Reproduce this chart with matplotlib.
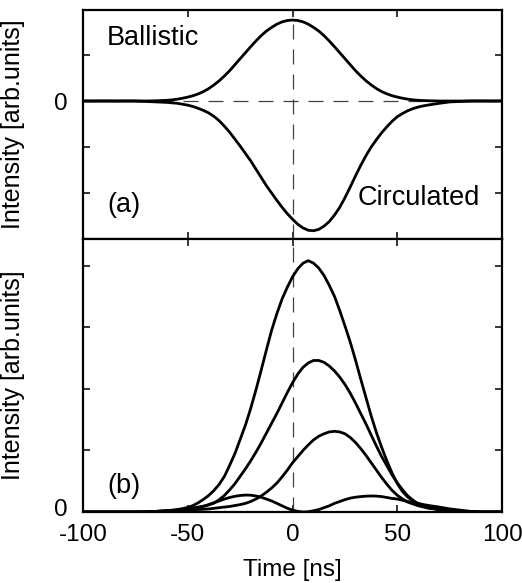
import numpy as np
import matplotlib
matplotlib.use("Agg")
import matplotlib.pyplot as plt
from matplotlib.transforms import ScaledTranslation

# time axis, ns: coarse in the flat tails, 2.5 ns across the pulses
time_ns = ([-100, -90, -80, -75, -70, -65]
           + [-60 + 2.5 * i for i in range(51)]
           + [70, 75, 80, 85, 90, 100])

# panel (a): pulses
ballistic = ([0, 0, 0, 0, 0, 0.005]
             + [0.015, 0.025, 0.04, 0.06, 0.085, 0.115, 0.155, 0.205, 0.27, 0.35,
                0.44, 0.545, 0.66, 0.79, 0.92, 1.05, 1.18, 1.305, 1.42, 1.52,
                1.6, 1.67, 1.72, 1.75, 1.76, 1.75, 1.72, 1.67, 1.6, 1.52,
                1.42, 1.305, 1.18, 1.05, 0.92, 0.79, 0.66, 0.545, 0.44, 0.35,
                0.27, 0.205, 0.155, 0.115, 0.085, 0.06, 0.04, 0.025, 0.015, 0.01,
                0.005]
             + [0, 0, 0, 0, 0, 0])
circulated = ([0, 0, 0, 0, -0.01, -0.02]
              + [-0.03, -0.04, -0.05, -0.07, -0.09, -0.12, -0.16, -0.205, -0.26, -0.335,
                 -0.43, -0.55, -0.68, -0.83, -0.98, -1.14, -1.3, -1.48, -1.66, -1.84,
                 -2.0, -2.16, -2.31, -2.45, -2.57, -2.68, -2.76, -2.81, -2.82, -2.79,
                 -2.72, -2.62, -2.48, -2.31, -2.1, -1.87, -1.63, -1.4, -1.19, -1.0,
                 -0.84, -0.69, -0.56, -0.44, -0.34, -0.27, -0.21, -0.165, -0.13, -0.105,
                 -0.085]
              + [-0.05, -0.02, -0.01, 0, 0, 0])

# panel (b): the traces
trace_1 = ([0, 0, 0, 0, 0, 0.01]
           + [0.02, 0.03, 0.04, 0.055, 0.075, 0.105, 0.15, 0.205, 0.27, 0.35,
              0.45, 0.58, 0.76, 0.95, 1.18, 1.41, 1.68, 1.98, 2.3, 2.63,
              2.95, 3.22, 3.46, 3.65, 3.82, 3.95, 4.04, 4.08, 4.04, 3.96,
              3.84, 3.68, 3.5, 3.27, 3.02, 2.76, 2.47, 2.16, 1.86, 1.56,
              1.29, 1.05, 0.83, 0.63, 0.46, 0.33, 0.24, 0.18, 0.13, 0.1,
              0.07]
           + [0.04, 0.02, 0.01, 0.005, 0, 0])
trace_2 = ([0, 0, 0, 0, 0, 0.01]
           + [0.02, 0.025, 0.03, 0.04, 0.05, 0.065, 0.08, 0.095, 0.115, 0.145,
              0.2, 0.27, 0.36, 0.46, 0.58, 0.7, 0.83, 0.97, 1.12, 1.28,
              1.44, 1.6, 1.77, 1.94, 2.1, 2.24, 2.35, 2.42, 2.46, 2.46,
              2.43, 2.37, 2.29, 2.19, 2.07, 1.93, 1.77, 1.6, 1.43, 1.25,
              1.07, 0.9, 0.75, 0.6, 0.47, 0.36, 0.26, 0.19, 0.13, 0.1,
              0.07]
           + [0.04, 0.02, 0.01, 0.005, 0, 0])
trace_3 = ([0, 0, 0, 0, 0, 0]
           + [0.01, 0.015, 0.02, 0.025, 0.03, 0.035, 0.04, 0.045, 0.05, 0.06,
              0.07, 0.08, 0.09, 0.105, 0.12, 0.14, 0.17, 0.21, 0.26, 0.32,
              0.39, 0.47, 0.57, 0.68, 0.8, 0.9, 1.0, 1.09, 1.17, 1.23,
              1.27, 1.3, 1.31, 1.3, 1.27, 1.21, 1.13, 1.03, 0.92, 0.8,
              0.68, 0.56, 0.45, 0.35, 0.27, 0.21, 0.16, 0.13, 0.1, 0.08,
              0.06]
           + [0.04, 0.02, 0.01, 0.005, 0, 0])
# two small humps, touching zero just after t = 0
trace_4 = ([0, 0, 0, 0, 0.005, 0.01]
           + [0.02, 0.025, 0.03, 0.035, 0.045, 0.055, 0.07, 0.09, 0.12, 0.15,
              0.18, 0.21, 0.235, 0.255, 0.268, 0.275, 0.273, 0.26, 0.24, 0.21,
              0.18, 0.14, 0.1, 0.06, 0.03, 0.01, 0, 0.005, 0.02, 0.04,
              0.07, 0.1, 0.14, 0.17, 0.2, 0.225, 0.24, 0.25, 0.257, 0.26,
              0.258, 0.25, 0.235, 0.22, 0.21, 0.19, 0.17, 0.155, 0.14, 0.12,
              0.105]
           + [0.08, 0.05, 0.03, 0.01, 0, 0])

x_ticks = [-100, -50, 0, 50, 100]

plt.rcParams['font.family'] = ['Liberation Sans', 'DejaVu Sans']

fig = plt.figure(figsize=(5.22, 5.83), dpi=100)
ax_a = fig.add_axes([0.159, 0.590, 0.803, 0.393])
ax_b = fig.add_axes([0.159, 0.1218, 0.803, 0.468])

dash = dict(color='0.25', lw=0.9, ls=(0, (12, 8)))
curve = dict(color='black', lw=2.0)

# (a)
ax_a.axhline(0, **dash)
ax_a.axvline(0, **dash)
ax_a.plot(time_ns, ballistic, **curve)
ax_a.plot(time_ns, circulated, **curve)
ax_a.set_xlim(-100, 100)
ax_a.set_ylim(-3.0, 1.98)
ax_a.set_xticks(x_ticks)
ax_a.set_xticklabels([])
ax_a.set_yticks([-2, -1, 0, 1])
ax_a.set_yticklabels(['', '', '0', ''])
ax_a.text(0.057, 0.878, 'Ballistic', transform=ax_a.transAxes, fontsize=19.5, va='center', ha='left')
ax_a.text(0.656, 0.179, 'Circulated', transform=ax_a.transAxes, fontsize=19.5, va='center', ha='left')
ax_a.text(0.058, 0.148, '(a)', transform=ax_a.transAxes, fontsize=19.5, va='center', ha='left')
ax_a.set_ylabel('Intensity [arb.units]', fontsize=18)

# (b)
ax_b.axvline(0, **dash)
for tr in [trace_1, trace_2, trace_3, trace_4]:
    ax_b.plot(time_ns, tr, **curve)
ax_b.set_xlim(-100, 100)
ax_b.set_ylim(0, 4.43)
ax_b.set_xticks(x_ticks)
ax_b.set_xticklabels(['-100', '-50', '0', '50', '100'])
ax_b.set_yticks([0, 1, 2, 3, 4])
ax_b.set_yticklabels(['0', '', '', '', ''])
ax_b.text(0.058, 0.095, '(b)', transform=ax_b.transAxes, fontsize=19.5, va='center', ha='left')
ax_b.set_ylabel('Intensity [arb.units]', fontsize=18)
ax_b.set_xlabel('Time [ns]', fontsize=17.5, labelpad=9)

for ax in [ax_a, ax_b]:
    ax.tick_params(direction='in', top=True, right=True, length=5, width=1.1,
                   labelsize=17.5)
    ax.tick_params(axis='x', pad=9)
    ax.tick_params(axis='y', pad=11)
    for sp in ax.spines.values():
        sp.set_linewidth(1.6)
    ax.yaxis.set_label_coords(-0.138, 0.5)

# the bottom "0" sits a little above the baseline in the original
fig.canvas.draw()
lift = ScaledTranslation(0, 3 / 72, fig.dpi_scale_trans)
for lbl in ax_b.get_yticklabels():
    lbl.set_transform(lbl.get_transform() + lift)

fig.savefig('out.png', dpi=100)
